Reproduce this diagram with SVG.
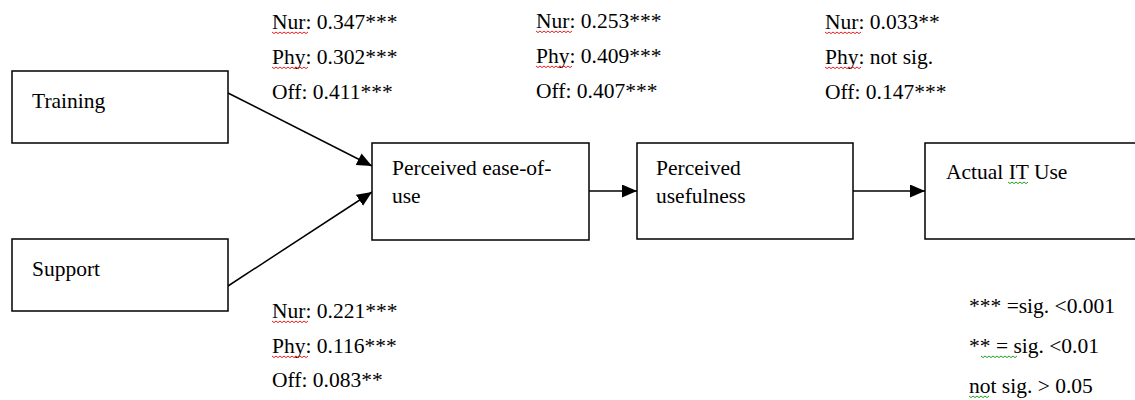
<svg xmlns="http://www.w3.org/2000/svg" width="1135" height="400" viewBox="0 0 1135 400">
<style>
text{font-family:"Liberation Serif","Times New Roman",serif;font-size:21.5px;fill:#000}
.box{fill:#fff;stroke:#000;stroke-width:1.5}
.edge{fill:none;stroke:#000;stroke-width:1.5}
.sqr{fill:none;stroke:#e02020;stroke-width:1}
.sqg{fill:none;stroke:#20a020;stroke-width:1}
</style>
<defs>
<marker id="ah" markerUnits="userSpaceOnUse" markerWidth="16" markerHeight="14" refX="15" refY="6.5" orient="auto">
<path d="M0,0 L15,6.5 L0,13 z" fill="#000"/>
</marker>
<path id="wave" d="M0,0 l2,1.6 l2,-1.6 l2,1.6 l2,-1.6 l2,1.6 l2,-1.6 l2,1.6 l2,-1.6 l2,1.6 l2,-1.6 l2,1.6 l2,-1.6 l2,1.6 l2,-1.6 l2,1.6 l2,-1.6 l2,1.6 l2,-1.6"/>
<path id="wave2" d="M0,0 l2,1.6 l2,-1.6 l2,1.6 l2,-1.6 l2,1.6 l2,-1.6 l2,1.6 l2,-1.6 l2,1.6 l2,-1.6"/>
</defs>

<g id="connectors">
<line class="edge" x1="228" y1="93" x2="372" y2="166" marker-end="url(#ah)"/>
<line class="edge" x1="228" y1="286" x2="372" y2="192" marker-end="url(#ah)"/>
<line class="edge" x1="589" y1="191" x2="637" y2="191" marker-end="url(#ah)"/>
<line class="edge" x1="853" y1="191" x2="925" y2="191" marker-end="url(#ah)"/>
</g>

<g id="training">
<rect class="box" x="12" y="71" width="216" height="72"/>
<text x="32" y="108">Training</text>
</g>
<g id="support">
<rect class="box" x="12" y="239" width="216" height="72"/>
<text x="32" y="276">Support</text>
</g>
<g id="ease">
<rect class="box" x="372" y="143" width="217" height="97"/>
<text x="392" y="175">Perceived ease-of-</text>
<text x="392" y="203">use</text>
</g>
<g id="usefulness">
<rect class="box" x="637" y="143" width="216" height="96"/>
<text x="656" y="175">Perceived</text>
<text x="656" y="203">usefulness</text>
</g>
<g id="actual">
<rect class="box" x="925" y="143" width="220" height="96"/>
<text x="946" y="179">Actual IT Use</text>
<use href="#wave2" class="sqg" x="1008" y="182"/>
</g>

<g id="label-training">
<text x="272" y="29">Nur: 0.347***</text>
<text x="272" y="64">Phy: 0.302***</text>
<text x="272" y="99">Off: 0.411***</text>
<use href="#wave" class="sqr" x="272" y="32"/>
<use href="#wave" class="sqr" x="272" y="67"/>
</g>
<g id="label-ease-use">
<text x="536" y="28">Nur: 0.253***</text>
<text x="536" y="63">Phy: 0.409***</text>
<text x="536" y="98">Off: 0.407***</text>
<use href="#wave" class="sqr" x="536" y="31"/>
<use href="#wave" class="sqr" x="536" y="66"/>
</g>
<g id="label-use-actual">
<text x="825" y="29">Nur: 0.033**</text>
<text x="825" y="64">Phy: not sig.</text>
<text x="825" y="99">Off: 0.147***</text>
<use href="#wave" class="sqr" x="825" y="32"/>
<use href="#wave" class="sqr" x="825" y="67"/>
</g>
<g id="label-support">
<text x="272" y="318">Nur: 0.221***</text>
<text x="272" y="353">Phy: 0.116***</text>
<text x="272" y="387">Off: 0.083**</text>
<use href="#wave" class="sqr" x="272" y="321"/>
<use href="#wave" class="sqr" x="272" y="356"/>
</g>
<g id="legend">
<text x="969" y="313">*** =sig. &lt;0.001</text>
<text x="969" y="353">** = sig. &lt;0.01</text>
<text x="969" y="393">not sig. &gt; 0.05</text>
<use href="#wave" class="sqg" x="981" y="356" transform="scale(1,1)"/>
<use href="#wave2" class="sqg" x="969" y="396"/>
</g>
</svg>
